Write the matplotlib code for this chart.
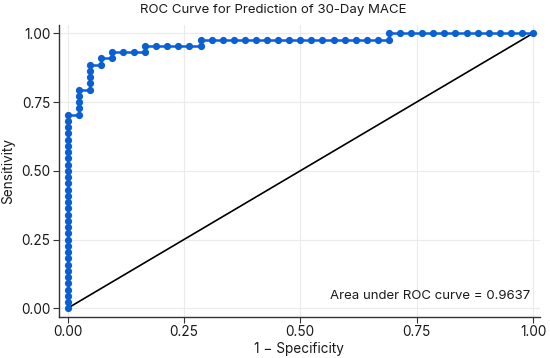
import matplotlib
matplotlib.use("Agg")
import matplotlib.pyplot as plt

plt.rcParams['font.family'] = ['Inter', 'DejaVu Sans']

# Cumulative false-positive and true-positive counts at each threshold point
fp_counts = [0, 0, 0, 0, 0, 0, 0, 0, 0, 0, 0, 0, 0, 0, 0, 0,
             0, 0, 0, 0, 0, 0, 0, 0, 0, 0, 0, 0, 0, 0, 0, 0,
             1, 1, 1, 1, 1,
             2, 2, 2, 2, 2,
             3, 3,
             4, 4,
             5, 6,
             7, 7,
             8, 9, 10, 11,
             12, 12,
             13, 14, 15, 16, 17, 18, 19, 20, 21, 22, 23, 24, 25, 26, 27, 28,
             29, 29,
             30, 31, 32, 33, 34, 35, 36, 37, 38, 39, 40, 41, 42]
tp_counts = [0, 1, 2, 3, 4, 5, 6, 7, 8, 9, 10, 11, 12, 13, 14, 15,
             16, 17, 18, 19, 20, 21, 22, 23, 24, 25, 26, 27, 28, 29, 30, 31,
             31, 32, 33, 34, 35,
             35, 36, 37, 38, 39,
             39, 40,
             40, 41,
             41, 41,
             41, 42,
             42, 42, 42, 42,
             42, 43,
             43, 43, 43, 43, 43, 43, 43, 43, 43, 43, 43, 43, 43, 43, 43, 43,
             43, 44,
             44, 44, 44, 44, 44, 44, 44, 44, 44, 44, 44, 44, 44]
n_negative = 42
n_positive = 44
auc_value = 0.9637

fpr = [c / n_negative for c in fp_counts]
tpr = [c / n_positive for c in tp_counts]

fig = plt.figure(figsize=(5.5, 3.58), dpi=100)
ax = fig.add_axes([0.1067, 0.1154, 0.8751, 0.8146])

ax.grid(True, color='#ebebeb', linewidth=0.8)
ax.set_axisbelow(True)

ax.plot([0, 1], [0, 1], color='black', linewidth=1.2, zorder=2)
ax.plot(fpr, tpr, color='#0a5fd2', linewidth=1.8, marker='o',
        markersize=5.2, markeredgewidth=0, zorder=3)

ax.set_xlim(-0.019, 1.015)
ax.set_ylim(-0.0305, 1.03)
ticks = [0.0, 0.25, 0.5, 0.75, 1.0]
ax.set_xticks(ticks)
ax.set_yticks(ticks)
ax.set_xticklabels(['0.00', '0.25', '0.50', '0.75', '1.00'])
ax.set_yticklabels(['0.00', '0.25', '0.50', '0.75', '1.00'])
ax.tick_params(labelsize=9.8, length=4, width=0.8, color='#333333',
               labelcolor='#1a1a1a', pad=2)

for s in ['top', 'right']:
    ax.spines[s].set_visible(False)
for s in ['left', 'bottom']:
    ax.spines[s].set_color('#333333')
    ax.spines[s].set_linewidth(1.0)

ax.set_xlabel('1 \u2212 Specificity', fontsize=9.8, color='#1a1a1a', labelpad=2)
ax.set_ylabel('Sensitivity', fontsize=9.8, color='#1a1a1a', labelpad=4)

fig.text(0.497, 0.972, 'ROC Curve for Prediction of 30-Day MACE',
         ha='center', va='center', fontsize=9.5, color='#1a1a1a')

ax.text(0.995, 0.045, f'Area under ROC curve = {auc_value:.4f}',
        ha='right', va='center', fontsize=9.5, color='#1a1a1a')

fig.savefig('out.png', dpi=100)
